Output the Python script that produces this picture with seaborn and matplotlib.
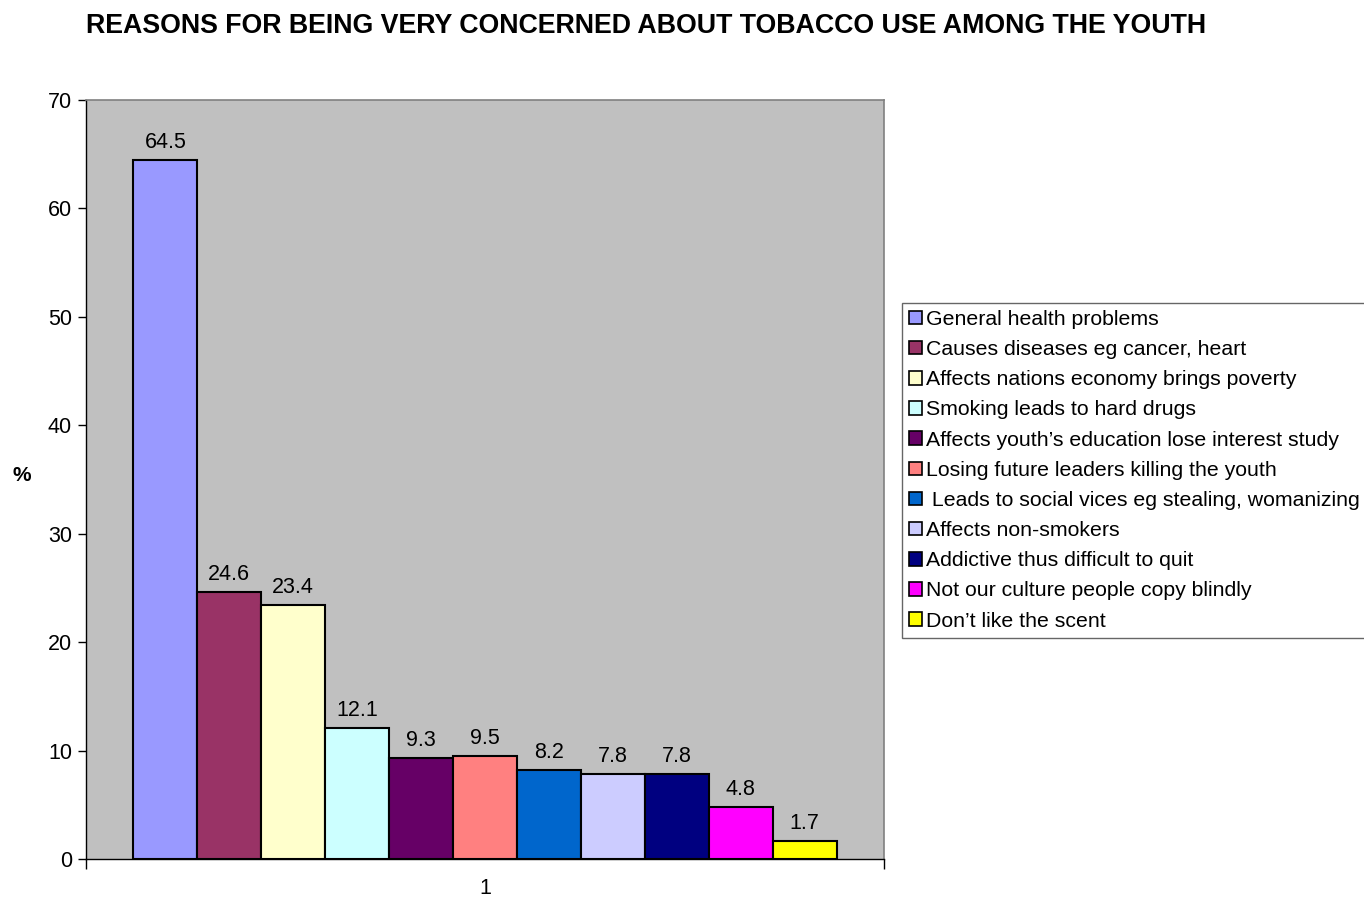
import matplotlib
matplotlib.use("Agg")
import matplotlib.pyplot as plt
import seaborn as sns
import pandas as pd

categories = [
    "General health problems",
    "Causes diseases eg cancer, heart",
    "Affects nations economy brings poverty",
    "Smoking leads to hard drugs",
    "Affects youth\u2019s education lose interest study",
    "Losing future leaders killing the youth",
    " Leads to social vices eg stealing, womanizing",
    "Affects non-smokers",
    "Addictive thus difficult to quit",
    "Not our culture people copy blindly",
    "Don\u2019t like the scent",
]
values = [64.5, 24.6, 23.4, 12.1, 9.3, 9.5, 8.2, 7.8, 7.8, 4.8, 1.7]
colors = ["#9999FF", "#993366", "#FFFFCC", "#CCFFFF", "#660066", "#FF8080",
          "#0066CC", "#CCCCFF", "#000080", "#FF00FF", "#FFFF00"]
group_label = ["1"]
y_ticks = [0, 10, 20, 30, 40, 50, 60, 70]

df = pd.DataFrame({"group": group_label * len(categories),
                   "reason": categories, "value": values})

sns.set_style("white")
plt.rcParams["font.family"] = ["Liberation Sans", "DejaVu Sans"]
plt.rcParams["text.color"] = "black"
plt.rcParams["xtick.color"] = "black"
plt.rcParams["ytick.color"] = "black"
plt.rcParams["axes.labelcolor"] = "black"

fig = plt.figure(figsize=(13.64, 8.97), dpi=100)
ax = fig.add_axes([86/1364, 1-859/897, (884-86)/1364, (859-100)/897])
ax.set_facecolor("#C0C0C0")

sns.barplot(data=df, x="group", y="value", hue="reason", hue_order=categories,
            palette=colors, saturation=1, width=0.881, edgecolor="black",
            linewidth=1.5, ax=ax, legend=True)

for c in ax.containers:
    ax.bar_label(c, labels=[f"{v:.1f}" for v in c.datavalues], padding=5,
                 fontsize=15.5, color="black")

ax.set_xlim(-0.5, 0.5)
ax.set_ylim(0, 70)
ax.set_yticks(y_ticks)
ax.tick_params(axis="y", direction="out", length=6, width=1, labelsize=15.5, left=True, pad=4)
ax.tick_params(axis="x", length=0, labelsize=15.5, pad=14)
ax.set_xticks([-0.5, 0.5], minor=True)
ax.tick_params(axis="x", which="minor", direction="out", length=7, width=1, bottom=True)
ax.set_xlabel("")
ax.set_ylabel("%", fontsize=15, fontweight="bold", rotation=0, labelpad=0, va="center")
ax.yaxis.set_label_coords(-0.08, 0.5055)

for s in ["left", "bottom"]:
    ax.spines[s].set_color("black")
    ax.spines[s].set_linewidth(1)
for s in ["top", "right"]:
    ax.spines[s].set_color("#808080")
    ax.spines[s].set_linewidth(1.2)

leg = ax.legend(loc="upper left", bbox_to_anchor=(902/1364, 1-303/897),
                bbox_transform=fig.transFigure, frameon=True, fancybox=False,
                fontsize=15.3, handlelength=0.6, handleheight=0.6,
                handletextpad=0.22, labelspacing=0.525, borderpad=0.33,
                borderaxespad=0, title=None)
leg.get_frame().set_edgecolor("#404040")
leg.get_frame().set_linewidth(1)
for h in leg.legend_handles:
    h.set_edgecolor("black")
    h.set_linewidth(1.2)

fig.text(86/1364, 1-26/897, "REASONS FOR BEING VERY CONCERNED ABOUT TOBACCO USE AMONG THE YOUTH",
         fontsize=19.25, fontweight="bold", ha="left", va="center")

fig.savefig("out.png", dpi=100)
